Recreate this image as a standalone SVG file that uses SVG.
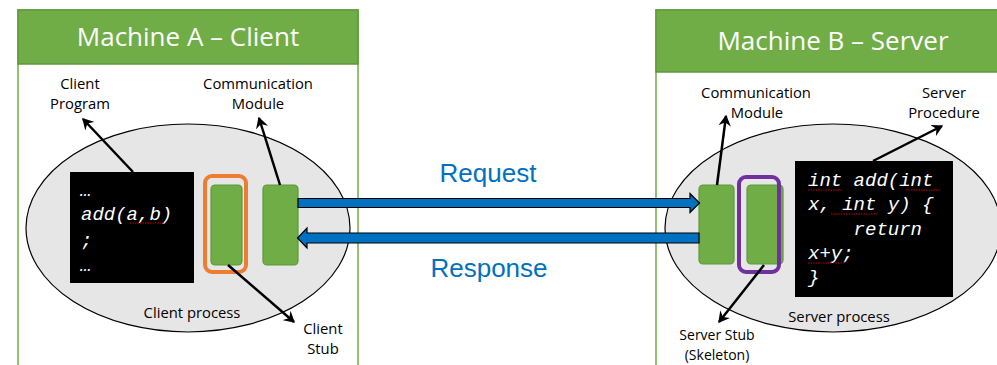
<svg xmlns="http://www.w3.org/2000/svg" width="997" height="365" viewBox="0 0 997 365">
<style>
.machine{fill:#fff;stroke:#70AD47;stroke-width:1.5}
.hdr{fill:#70AD47;stroke:#5E9A3B;stroke-width:1.5}
.title{font-family:"Open Sans","Liberation Sans",sans-serif;font-size:26px;fill:#fff;text-anchor:middle}
.proc{fill:#E7E6E6;stroke:#000;stroke-width:1.2}
.code{fill:#000}
.ct{font-family:"Liberation Mono","Courier New",monospace;font-style:italic;font-size:19px;fill:#fff;white-space:pre}
.gr{fill:#70AD47;stroke:#5B9A3A;stroke-width:1.2}
.lbl{font-family:"Open Sans","Liberation Sans",sans-serif;font-size:14.8px;fill:#000;text-anchor:middle}
.sm{font-size:14px}
.big{font-family:"Liberation Sans",Arial,sans-serif;font-size:26px;fill:#0070C0;text-anchor:middle}
.ptr{stroke:#000;stroke-width:2.5;fill:none;marker-end:url(#ah)}
.flow{fill:#0070C0;stroke:#000;stroke-width:1.2;stroke-linejoin:miter}
.sq{stroke:#C00000;stroke-width:1;stroke-dasharray:1.5 1;fill:none}
</style>
<defs>
<marker id="ah" viewBox="0 0 10 10" refX="8" refY="5" markerWidth="5" markerHeight="5" orient="auto" markerUnits="strokeWidth">
<path d="M0,0 L9,5 L0,10 L3,5 Z" fill="#000"/>
</marker>
</defs>

<g id="machineA">
<rect class="machine" x="18" y="10" width="340" height="370"/>
<rect class="hdr" x="18" y="10" width="340" height="54"/>
<text class="title" x="188" y="46">Machine A – Client</text>
</g>
<g id="machineB">
<rect class="machine" x="656" y="10" width="350" height="370"/>
<rect class="hdr" x="656" y="10" width="350" height="62"/>
<text class="title" x="833" y="50">Machine B – Server</text>
</g>

<g id="clientProcess">
<ellipse class="proc" cx="188" cy="228" rx="162" ry="104"/>
<text class="lbl" x="192" y="318">Client process</text>
</g>
<g id="serverProcess">
<ellipse class="proc" cx="833" cy="228" rx="168" ry="104"/>
<text class="lbl" x="839" y="322">Server process</text>
</g>

<g id="clientProgram">
<rect class="code" x="70" y="172" width="124" height="111"/>
<text class="ct" x="80" y="196">…</text>
<text class="ct" x="81" y="220">add(a,b)</text>
<text class="ct" x="81" y="246">;</text>
<text class="ct" x="80" y="271">…</text>
<path class="sq" d="M130,223 H164"/>
</g>
<g id="clientStub">
<rect class="gr" x="211" y="185" width="31" height="80" rx="4"/>
<rect x="205" y="176" width="41" height="96" rx="7" fill="none" stroke="#ED7D31" stroke-width="4"/>
</g>
<g id="clientComm">
<rect class="gr" x="263" y="185" width="35" height="80" rx="4"/>
</g>

<g id="serverComm">
<rect class="gr" x="699" y="185" width="35" height="79" rx="4"/>
</g>
<g id="serverStub">
<rect class="gr" x="747" y="185" width="36" height="79" rx="4"/>
<rect x="739" y="177" width="40" height="95" rx="7" fill="none" stroke="#7030A0" stroke-width="4"/>
</g>
<g id="serverProcedure">
<rect class="code" x="795" y="161" width="158" height="136"/>
<text class="ct" x="808" y="186">int add(int</text>
<text class="ct" x="808" y="210">x, int y) {</text>
<text class="ct" x="808" y="235" xml:space="preserve">    return</text>
<text class="ct" x="808" y="259">x+y;</text>
<text class="ct" x="808" y="283">}</text>
<path class="sq" d="M808,190 H842 M906,190 H940 M831,214 H877 M808,263 H845"/>
</g>

<g id="labels">
<text class="lbl" x="80" y="89">Client</text>
<text class="lbl" x="80" y="109">Program</text>
<text class="lbl" x="258" y="89">Communication</text>
<text class="lbl" x="258" y="109">Module</text>
<text class="lbl" x="323" y="334">Client</text>
<text class="lbl" x="323" y="354">Stub</text>
<text class="lbl" x="756" y="98">Communication</text>
<text class="lbl" x="757" y="118">Module</text>
<text class="lbl" x="944" y="98">Server</text>
<text class="lbl" x="944" y="118">Procedure</text>
<text class="lbl sm" x="717" y="340">Server Stub</text>
<text class="lbl sm" x="717" y="360">(Skeleton)</text>
<text class="big" x="488" y="182">Request</text>
<text class="big" x="489" y="277">Response</text>
</g>

<g id="connectors">
<path class="flow" d="M298,198.5 H690 V193.5 L699.5,203 L690,212.5 V207.5 H298 Z"/>
<path class="flow" d="M699,233 H307 V228 L297.5,238 L307,248 V243 H699 Z"/>
<line class="ptr" x1="133" y1="172" x2="83" y2="119"/>
<line class="ptr" x1="280" y1="185" x2="259" y2="118"/>
<line class="ptr" x1="228" y1="265" x2="294" y2="322"/>
<line class="ptr" x1="717" y1="185" x2="726" y2="116"/>
<line class="ptr" x1="873" y1="161" x2="942" y2="126"/>
<line class="ptr" x1="764" y1="265" x2="719" y2="322"/>
</g>
</svg>
